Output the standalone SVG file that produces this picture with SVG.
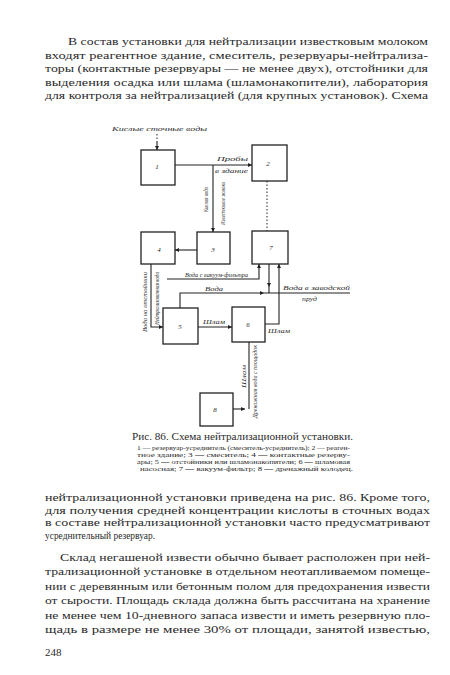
<svg xmlns="http://www.w3.org/2000/svg" width="450" height="675" viewBox="0 0 450 675">
<style>
.t{font-family:"Liberation Serif","DejaVu Serif",serif;font-size:11px;fill:#2a2a2a}
.cap{font-family:"Liberation Serif","DejaVu Serif",serif;font-size:9.5px;fill:#2a2a2a}
.lg{font-family:"Liberation Serif","DejaVu Serif",serif;font-size:6px;fill:#2a2a2a}
.lb{font-family:"Liberation Serif","DejaVu Serif",serif;font-style:italic;font-size:6.5px;fill:#2a2a2a}
.num{font-family:"Liberation Serif","DejaVu Serif",serif;font-style:italic;font-size:7px;fill:#2a2a2a;text-anchor:middle}
.box{fill:none;stroke:#222;stroke-width:1.3}
.ln{fill:none;stroke:#222;stroke-width:1.1}
.dot{fill:none;stroke:#222;stroke-width:1;stroke-dasharray:1.5 2}
</style>
<defs>
<marker id="ar" viewBox="0 0 6 6" refX="6" refY="3" markerWidth="5" markerHeight="4" markerUnits="userSpaceOnUse" orient="auto">
<path d="M0,0 L6,3 L0,6 z" fill="#222"/>
</marker>
</defs>
<rect width="450" height="675" fill="#fff"/>

<g id="text-top">
<text class="t" x="68" y="45" textLength="360" lengthAdjust="spacingAndGlyphs">В состав установки для нейтрализации известковым молоком</text>
<text class="t" x="45" y="58.5" textLength="383" lengthAdjust="spacingAndGlyphs">входят реагентное здание, смеситель, резервуары-нейтрализа-</text>
<text class="t" x="45" y="72" textLength="383" lengthAdjust="spacingAndGlyphs">торы (контактные резервуары — не менее двух), отстойники для</text>
<text class="t" x="45" y="85.5" textLength="383" lengthAdjust="spacingAndGlyphs">выделения осадка или шлама (шламонакопители), лаборатория</text>
<text class="t" x="45" y="99" textLength="383" lengthAdjust="spacingAndGlyphs">для контроля за нейтрализацией (для крупных установок). Схема</text>
</g>

<g id="n1"><rect class="box" x="141" y="150" width="34" height="35"/><text class="num" x="157" y="169">1</text></g>
<g id="n2"><rect class="box" x="252" y="145" width="35" height="36"/><text class="num" x="268" y="166">2</text></g>
<g id="n4"><rect class="box" x="141" y="232" width="34" height="32"/><text class="num" x="159" y="252">4</text></g>
<g id="n3"><rect class="box" x="197" y="232" width="33" height="32"/><text class="num" x="213" y="252">3</text></g>
<g id="n7"><rect class="box" x="252" y="231" width="36" height="33"/><text class="num" x="271" y="250">7</text></g>
<g id="n5"><rect class="box" x="163" y="308" width="35" height="36"/><text class="num" x="180" y="329">5</text></g>
<g id="n6"><rect class="box" x="232" y="307" width="33" height="35"/><text class="num" x="248" y="327">6</text></g>
<g id="n8"><rect class="box" x="200" y="393" width="33" height="33"/><text class="num" x="215" y="412">8</text></g>

<g id="connectors">
<path class="dot" d="M157,134 V141"/>
<path class="ln" d="M157,141 V150" marker-end="url(#ar)"/>
<path class="ln" d="M175,165 H252" marker-end="url(#ar)"/>
<path class="ln" d="M213,165 V232" marker-end="url(#ar)"/>
<path class="dot" d="M267,181 V231"/>
<path class="ln" d="M197,250 H175" marker-end="url(#ar)"/>
<path class="ln" d="M151,264 V327 H163" marker-end="url(#ar)"/>
<path class="ln" d="M167,279 H259 V264" marker-end="url(#ar)"/>
<path class="ln" d="M180,308 V293 H264" marker-end="url(#ar)"/>
<path class="ln" d="M264,293 H350"/>
<path class="ln" d="M269,264 V287" marker-end="url(#ar)"/>
<path class="ln" d="M269,287 V293"/>
<path class="ln" d="M198,327 H232" marker-end="url(#ar)"/>
<path class="ln" d="M265,324 H279 V264" marker-end="url(#ar)"/>
<path class="ln" d="M249,342 V409"/>
<path class="ln" d="M233,409 H245" marker-end="url(#ar)"/>
</g>

<g id="labels">
<text class="lb" x="112" y="131" textLength="95" lengthAdjust="spacingAndGlyphs">Кислые сточные воды</text>
<text class="lb" x="217" y="161" textLength="31" lengthAdjust="spacingAndGlyphs">Пробы</text>
<text class="lb" x="215" y="173" textLength="33" lengthAdjust="spacingAndGlyphs">в здание</text>
<text class="lb" transform="translate(208,212) rotate(-90)" textLength="25" lengthAdjust="spacingAndGlyphs">Кислая вода</text>
<text class="lb" transform="translate(225,225) rotate(-90)" textLength="43" lengthAdjust="spacingAndGlyphs">Известковое молоко</text>
<text class="lb" x="185" y="277" textLength="63" lengthAdjust="spacingAndGlyphs">Вода с вакуум-фильтра</text>
<text class="lb" x="205" y="291" textLength="18" lengthAdjust="spacingAndGlyphs">Вода</text>
<text class="lb" x="283" y="290" textLength="67" lengthAdjust="spacingAndGlyphs">Вода в заводской</text>
<text class="lb" x="302" y="301" textLength="15" lengthAdjust="spacingAndGlyphs">пруд</text>
<text class="lb" x="203" y="324" textLength="22" lengthAdjust="spacingAndGlyphs">Шлам</text>
<text class="lb" x="268" y="333" textLength="22" lengthAdjust="spacingAndGlyphs">Шлам</text>
<text class="lb" transform="translate(147,332) rotate(-90)" textLength="60" lengthAdjust="spacingAndGlyphs">Вода на отстойники</text>
<text class="lb" transform="translate(159,325) rotate(-90)" textLength="53" lengthAdjust="spacingAndGlyphs">Нейтрализованная вода</text>
<text class="lb" transform="translate(246,388) rotate(-90)" textLength="23" lengthAdjust="spacingAndGlyphs">Шлам</text>
<text class="lb" transform="translate(257,418) rotate(-90)" textLength="73" lengthAdjust="spacingAndGlyphs">Дренажная вода с площадок</text>
</g>

<g id="caption">
<text class="cap" x="132" y="440" textLength="221" lengthAdjust="spacingAndGlyphs">Рис. 86. Схема нейтрализационной установки.</text>
<text class="lg" x="137" y="450" textLength="213" lengthAdjust="spacingAndGlyphs">1 — резервуар-усреднитель (смеситель-усреднитель); 2 — реаген-</text>
<text class="lg" x="137" y="457" textLength="213" lengthAdjust="spacingAndGlyphs">тное здание; 3 — смеситель; 4 — контактные резерву-</text>
<text class="lg" x="137" y="464" textLength="213" lengthAdjust="spacingAndGlyphs">ары; 5 — отстойники или шламонакопители; 6 — шламовая</text>
<text class="lg" x="140" y="471" textLength="213" lengthAdjust="spacingAndGlyphs">насосная; 7 — вакуум-фильтр; 8 — дренажный колодец.</text>
</g>

<g id="text-bottom">
<text class="t" x="45" y="501" textLength="385" lengthAdjust="spacingAndGlyphs">нейтрализационной установки приведена на рис. 86. Кроме того,</text>
<text class="t" x="45" y="514" textLength="385" lengthAdjust="spacingAndGlyphs">для получения средней концентрации кислоты в сточных водах</text>
<text class="t" x="45" y="526" textLength="385" lengthAdjust="spacingAndGlyphs">в составе нейтрализационной установки часто предусматривают</text>
<text class="t" x="45" y="539" textLength="110" lengthAdjust="spacingAndGlyphs">усреднительный резервуар.</text>
<text class="t" x="60" y="561" textLength="370" lengthAdjust="spacingAndGlyphs">Склад негашеной извести обычно бывает расположен при ней-</text>
<text class="t" x="45" y="575" textLength="385" lengthAdjust="spacingAndGlyphs">трализационной установке в отдельном неотапливаемом помеще-</text>
<text class="t" x="45" y="589.5" textLength="385" lengthAdjust="spacingAndGlyphs">нии с деревянным или бетонным полом для предохранения извести</text>
<text class="t" x="45" y="604" textLength="385" lengthAdjust="spacingAndGlyphs">от сырости. Площадь склада должна быть рассчитана на хранение</text>
<text class="t" x="45" y="618.5" textLength="385" lengthAdjust="spacingAndGlyphs">не менее чем 10-дневного запаса извести и иметь резервную пло-</text>
<text class="t" x="45" y="633" textLength="385" lengthAdjust="spacingAndGlyphs">щадь в размере не менее 30% от площади, занятой известью,</text>
<text class="t" x="45" y="656">248</text>
</g>
</svg>
